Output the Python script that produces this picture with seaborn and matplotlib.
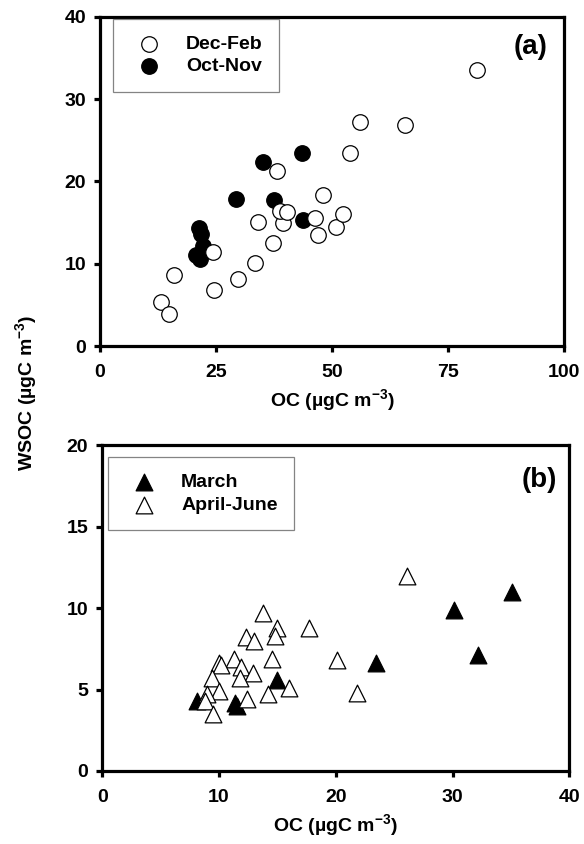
import numpy as np
import pandas as pd
import matplotlib
matplotlib.use("Agg")
import matplotlib.pyplot as plt
import seaborn as sns

# panel (a): OC vs WSOC, winter / post-monsoon
decfeb_oc = [13.2, 14.9, 16.0, 24.5, 24.3, 29.7, 33.5, 37.2, 34.1, 39.4, 38.9,
             40.2, 38.1, 46.4, 47.0, 48.1, 50.9, 52.4, 53.9, 56.1, 65.7, 81.3]
decfeb_wsoc = [5.3, 3.9, 8.6, 6.8, 11.4, 8.1, 10.1, 12.5, 15.1, 15.0, 16.4,
               16.3, 21.3, 15.5, 13.5, 18.4, 14.5, 16.1, 23.5, 27.2, 26.9, 33.6]
octnov_oc = [20.8, 21.6, 22.2, 21.7, 21.4, 29.4, 35.1, 37.5, 43.5, 43.8]
octnov_wsoc = [11.1, 10.6, 12.1, 13.6, 14.4, 17.9, 22.4, 17.7, 23.5, 15.3]

# panel (b): March / April-June
march_oc = [8.1, 11.4, 11.5, 15.0, 23.4, 30.1, 32.2, 35.1]
march_wsoc = [4.3, 4.2, 4.0, 5.6, 6.6, 9.9, 7.1, 11.0]
aprjun_oc = [13.8, 15.0, 14.8, 12.3, 13.0, 14.5, 11.3, 10.0, 10.2, 11.9, 12.9, 11.8,
             9.4, 10.0, 9.0, 8.8, 12.4, 14.2, 16.0, 9.5, 26.1, 17.7, 20.1, 21.8]
aprjun_wsoc = [9.7, 8.8, 8.3, 8.2, 8.0, 6.9, 6.9, 6.6, 6.5, 6.4, 6.0, 5.7,
               5.7, 4.9, 4.7, 4.3, 4.4, 4.7, 5.1, 3.5, 12.0, 8.8, 6.8, 4.8]

sns.set_style("ticks")
plt.rcParams["font.family"] = ["Liberation Sans", "DejaVu Sans"]
plt.rcParams["font.weight"] = "bold"
plt.rcParams["text.color"] = "black"
plt.rcParams["axes.labelcolor"] = "black"
plt.rcParams["xtick.color"] = "black"
plt.rcParams["ytick.color"] = "black"
plt.rcParams["mathtext.fontset"] = "custom"
plt.rcParams["mathtext.rm"] = "Liberation Sans:bold"
plt.rcParams["mathtext.default"] = "rm"

df_a = pd.concat([
    pd.DataFrame({"OC": octnov_oc, "WSOC": octnov_wsoc, "period": "Oct-Nov"}),
    pd.DataFrame({"OC": decfeb_oc, "WSOC": decfeb_wsoc, "period": "Dec-Feb"}),
])
df_b = pd.concat([
    pd.DataFrame({"OC": march_oc, "WSOC": march_wsoc, "period": "March"}),
    pd.DataFrame({"OC": aprjun_oc, "WSOC": aprjun_wsoc, "period": "April-June"}),
])

fig = plt.figure(figsize=(5.84, 8.44), dpi=100)
ax1 = fig.add_axes([0.171, 0.590, 0.795, 0.390])
ax2 = fig.add_axes([0.175, 0.0865, 0.800, 0.386])

def draw(ax, df, name, face, marker, size):
    sub = df[df["period"] == name]
    sns.scatterplot(data=sub, x="OC", y="WSOC", ax=ax, marker=marker, s=size,
                    color=face, edgecolor="black", linewidth=0.9, label=name,
                    zorder=3, clip_on=False)

draw(ax1, df_a, "Oct-Nov", "black", "o", 125)
draw(ax1, df_a, "Dec-Feb", "white", "o", 125)
draw(ax2, df_b, "March", "black", "^", 145)
draw(ax2, df_b, "April-June", "white", "^", 145)

def style(ax, xmax, xstep, ymax, ystep):
    ax.set_xlim(0, xmax)
    ax.set_ylim(0, ymax)
    ax.set_xticks(np.arange(0, xmax + 1, xstep))
    ax.set_yticks(np.arange(0, ymax + 1, ystep))
    for sp in ax.spines.values():
        sp.set_visible(True)
        sp.set_linewidth(2.3)
        sp.set_color("black")
    ax.tick_params(direction="out", length=4, width=2.3, labelsize=14)
    ax.tick_params(axis="x", pad=9)
    ax.tick_params(axis="y", pad=6)
    for lab in ax.get_xticklabels() + ax.get_yticklabels():
        lab.set_fontweight("bold")
    ax.set_ylabel("")
    ax.set_xlabel("OC (µgC m$^{-3}$)", fontsize=14, fontweight="bold", labelpad=4)

style(ax1, 100, 25, 40, 10)
style(ax2, 40, 10, 20, 5)

def legend(ax, order, anchor):
    h, l = ax.get_legend_handles_labels()
    hh = [h[l.index(o)] for o in order]
    leg = ax.legend(hh, order, loc="upper left", bbox_to_anchor=anchor,
                    frameon=True, fancybox=False, edgecolor="#666666",
                    prop={"weight": "bold", "size": 14}, handletextpad=0.9,
                    borderpad=0.85, labelspacing=0.25, borderaxespad=0,
                    handlelength=2.0)
    leg.get_frame().set_linewidth(0.9)

legend(ax1, ["Dec-Feb", "Oct-Nov"], (0.028, 0.994))
legend(ax2, ["March", "April-June"], (0.013, 0.963))

ax1.text(0.927, 0.91, "(a)", transform=ax1.transAxes, ha="center", va="center",
         fontsize=20, fontweight="bold")
ax2.text(0.935, 0.893, "(b)", transform=ax2.transAxes, ha="center", va="center",
         fontsize=20, fontweight="bold")

fig.text(0.045, 0.535, "WSOC (µgC m$^{-3}$)", rotation=90, ha="center",
         va="center", fontsize=14, fontweight="bold")

fig.savefig("out.png", dpi=100)
